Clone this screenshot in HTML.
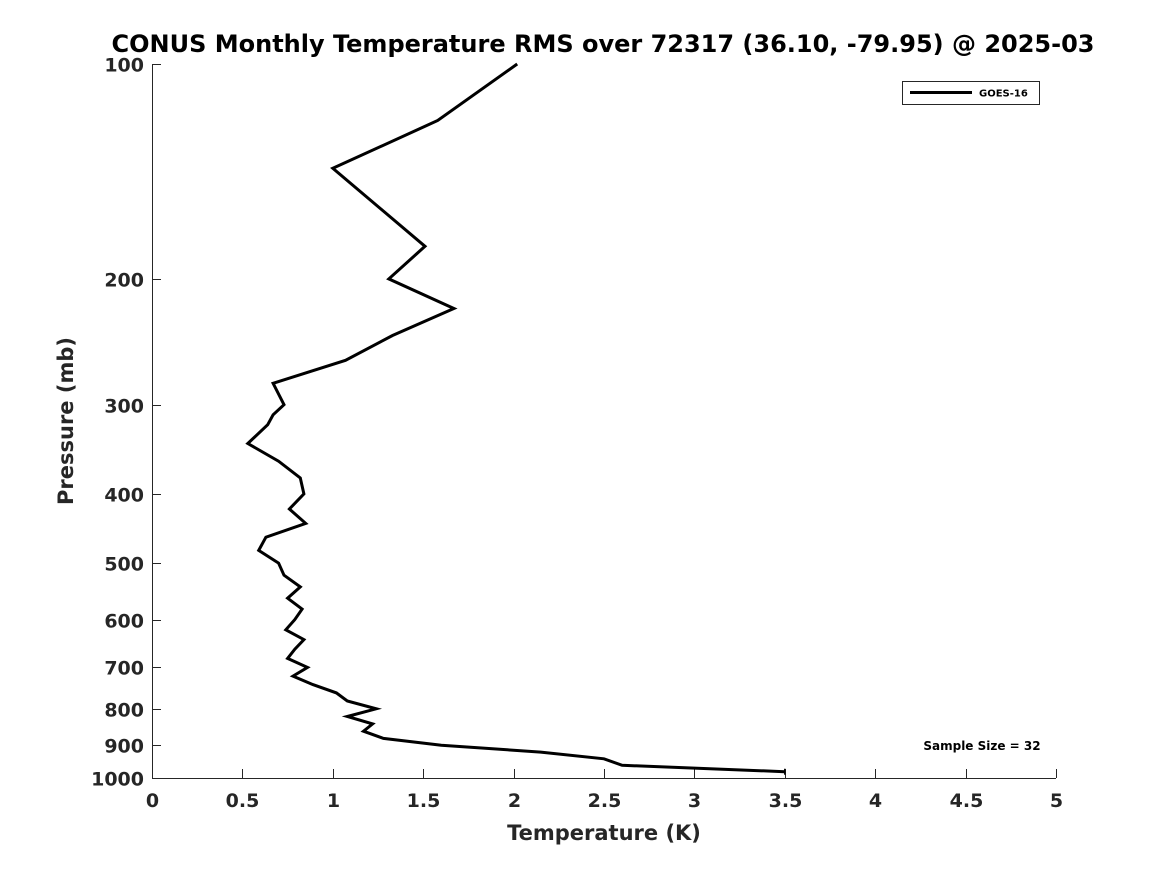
<!DOCTYPE html>
<html><head><meta charset="utf-8"><style>
body{margin:0;background:#fff;}
svg text{font-family:"DejaVu Sans","Liberation Sans",sans-serif;font-weight:bold;}
</style></head><body>
<svg id="chart" width="1167" height="875" xmlns="http://www.w3.org/2000/svg">
<rect width="1167" height="875" fill="#fff"/>
<text x="603" y="52" text-anchor="middle" font-size="24" fill="#000">CONUS Monthly Temperature RMS over 72317 (36.10, -79.95) @ 2025-03</text>
<g id="axes"></g>
<path id="line" fill="none" stroke="#000" stroke-width="3" stroke-linejoin="miter"/>
<g>
<rect x="902.5" y="81.5" width="137" height="23" fill="#fff" stroke="#262626" stroke-width="1"/>
<line x1="910" y1="92.5" x2="972" y2="92.5" stroke="#000" stroke-width="3"/>
<text x="979" y="96.5" font-size="10" fill="#000">GOES-16</text>
</g>
<text x="982" y="750" text-anchor="middle" font-size="12" fill="#000">Sample Size = 32</text>
<text x="604" y="840" text-anchor="middle" font-size="21" fill="#262626">Temperature (K)</text>
<text transform="translate(73,421) rotate(-90)" text-anchor="middle" font-size="21" fill="#262626">Pressure (mb)</text>
</svg>
<script>
const pressures=[100,120,140,180,200,220,240,260,280,300,310,320,340,360,380,400,420,440,460,480,500,520,540,560,580,600,620,640,660,680,700,720,740,760,780,800,820,840,860,880,900,920,940,960,980];
const rmsValues=[2.02,1.58,1.00,1.51,1.31,1.67,1.33,1.07,0.67,0.73,0.67,0.64,0.53,0.70,0.82,0.84,0.76,0.85,0.63,0.59,0.70,0.73,0.82,0.75,0.83,0.79,0.74,0.84,0.79,0.75,0.86,0.78,0.89,1.02,1.08,1.24,1.08,1.22,1.17,1.28,1.60,2.15,2.50,2.60,3.50];
const xTicks=[0,0.5,1,1.5,2,2.5,3,3.5,4,4.5,5];
const yTicks=[100,200,300,400,500,600,700,800,900,1000];
const X0=152,X1=1056,Y0=64,Y1=778;
const xs=v=>X0+(v-0)/(5-0)*(X1-X0);
const ys=p=>Y0+Math.log10(p/100)*(Y1-Y0);
const NS="http://www.w3.org/2000/svg";
const ax=document.getElementById('axes');
function mk(t,a){const e=document.createElementNS(NS,t);for(const k in a)e.setAttribute(k,a[k]);return e;}
const xl=mk('line',{x1:X0,y1:Y1+0.5,x2:X1,y2:Y1+0.5,stroke:'#262626','stroke-width':1});


ax.appendChild(xl);
const yl=mk('line',{x1:X0+0.5,y1:Y0,x2:X0+0.5,y2:Y1,stroke:'#262626','stroke-width':1});


ax.appendChild(yl);
xTicks.forEach(v=>{const x=Math.round(xs(v))+0.5;
const t=mk('line',{x1:x,y1:Y1,x2:x,y2:Y1-9,stroke:'#262626','stroke-width':1});


ax.appendChild(t);
const l=mk('text',{x:x,y:Y1+29,'text-anchor':'middle','font-size':19,fill:'#262626'});l.textContent=String(v);


ax.appendChild(l);});
yTicks.forEach(p=>{const y=Math.round(ys(p))+0.5;
const t=mk('line',{x1:X0,y1:y,x2:X0+9,y2:y,stroke:'#262626','stroke-width':1});


ax.appendChild(t);
const l=mk('text',{x:X0-8,y:y+7,'text-anchor':'end','font-size':19,fill:'#262626'});l.textContent=String(p);


ax.appendChild(l);});
let d='';pressures.forEach((p,i)=>{d+=(i?'L':'M')+xs(rmsValues[i]).toFixed(1)+','+ys(p).toFixed(1);});
document.getElementById('line').setAttribute('d',d);
const last=pressures.length-1;
const m=mk('line',{x1:xs(rmsValues[last]),y1:ys(pressures[last])-3,x2:xs(rmsValues[last]),y2:ys(pressures[last])+3,stroke:'#000','stroke-width':1.5});


document.getElementById('chart').appendChild(m);
</script>
</body></html>
